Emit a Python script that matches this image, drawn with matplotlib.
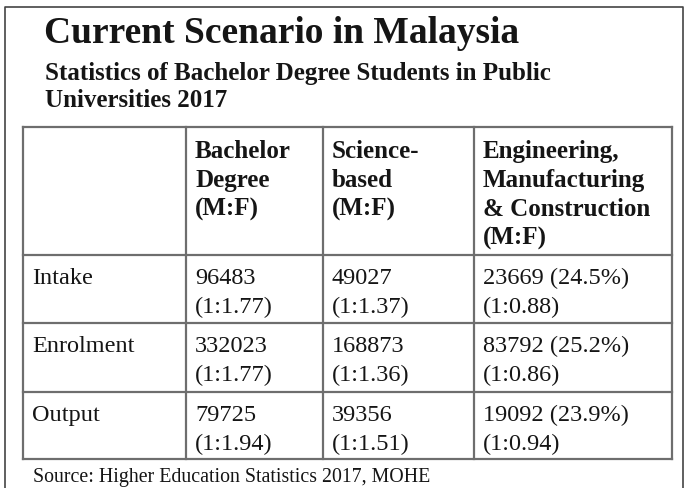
import matplotlib
matplotlib.use("Agg")
import matplotlib.pyplot as plt

plt.rcParams['font.family'] = ['Liberation Serif', 'DejaVu Serif']

title = "Current Scenario in Malaysia"
subtitle = ["Statistics of Bachelor Degree Students in Public", "Universities 2017"]
source = "Source: Higher Education Statistics 2017, MOHE"

col_headers = [
    [],
    ["Bachelor", "Degree", "(M:F)"],
    ["Science-", "based", "(M:F)"],
    ["Engineering,", "Manufacturing", "& Construction", "(M:F)"],
]
row_labels = ["Intake", "Enrolment", "Output"]
bachelor = [96483, 332023, 79725]
bachelor_ratio = ["1:1.77", "1:1.77", "1:1.94"]
science = [49027, 168873, 39356]
science_ratio = ["1:1.37", "1:1.36", "1:1.51"]
eng = [23669, 83792, 19092]
eng_pct = [24.5, 25.2, 23.9]
eng_ratio = ["1:0.88", "1:0.86", "1:0.94"]

# layout in pixels
col_x = [23, 186, 323, 474, 672]
row_y = [127, 255, 323, 392, 459]
pad = 9
line_h = 29
ink = "#151515"
grid = "#6e6e6e"

fig = plt.figure(figsize=(6.9, 4.88), dpi=100)
ax = fig.add_axes([0, 0, 1, 1])
ax.set_xlim(0, 690)
ax.set_ylim(488, 0)
ax.axis("off")

# outer frame (open at bottom)
ax.plot([5, 5, 683, 683], [490, 7, 7, 490], color="#444444", lw=1.2)

ax.text(44, 43, title, fontsize=27, fontweight="bold", color=ink, va="baseline")
ax.text(45, 80, subtitle[0], fontsize=18, fontweight="bold", color=ink, va="baseline")
ax.text(45, 107, subtitle[1], fontsize=18, fontweight="bold", color=ink, va="baseline")

# grid lines
for y in row_y:
    ax.plot([col_x[0], col_x[-1]], [y, y], color=grid, lw=1.6)
for x in col_x:
    ax.plot([x, x], [row_y[0], row_y[-1]], color=grid, lw=1.6)

# header
for j, lines in enumerate(col_headers):
    for k, s in enumerate(lines):
        ax.text(col_x[j] + pad, row_y[0] + 31 + k * line_h, s, fontsize=18,
                fontweight="bold", color=ink, va="baseline")

# body
for i, lab in enumerate(row_labels):
    top = row_y[i + 1]
    cells = [
        [lab],
        [str(bachelor[i]), "(" + bachelor_ratio[i] + ")"],
        [str(science[i]), "(" + science_ratio[i] + ")"],
        ["%d (%.1f%%)" % (eng[i], eng_pct[i]), "(" + eng_ratio[i] + ")"],
    ]
    for j, lines in enumerate(cells):
        for k, s in enumerate(lines):
            ax.text(col_x[j] + pad, top + 29 + k * line_h, s, fontsize=17.5,
                    color=ink, va="baseline")

ax.text(33, 482, source, fontsize=14.3, color=ink, va="baseline")

fig.savefig("out.png", dpi=100)
